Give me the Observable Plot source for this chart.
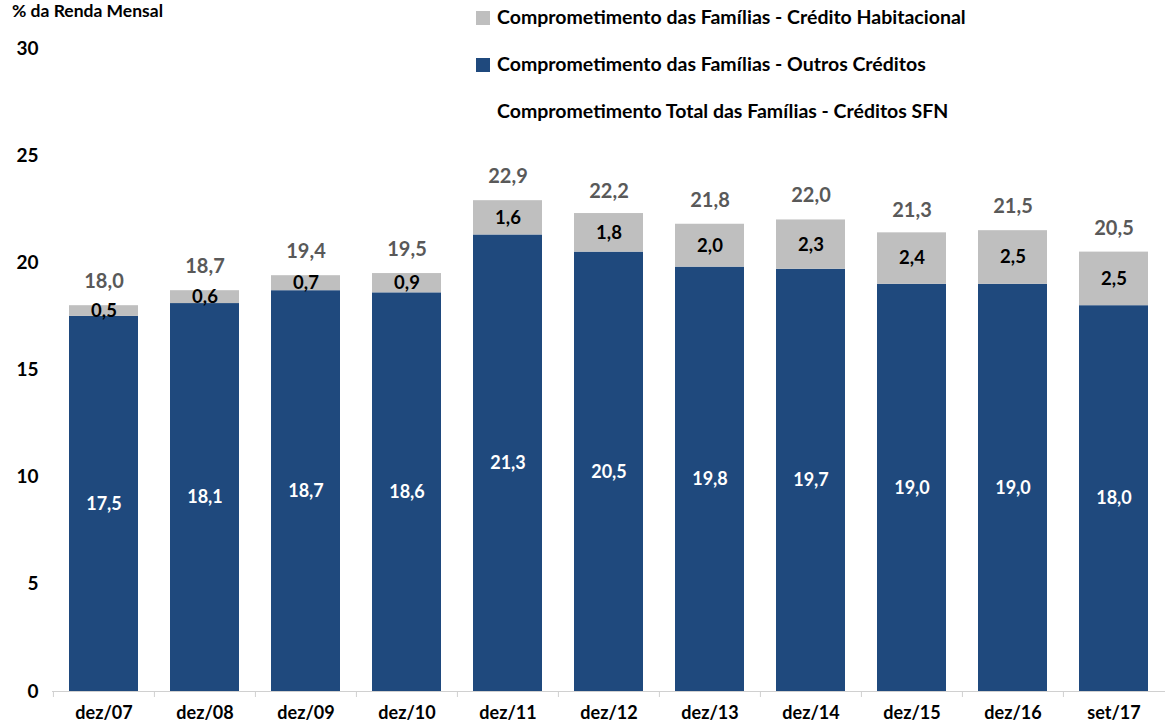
<!DOCTYPE html>
<html>
<head>
<meta charset="utf-8">
<script src="https://cdn.jsdelivr.net/npm/d3@7"></script>
<script src="https://cdn.jsdelivr.net/npm/@observablehq/plot@0.6"></script>
<style>
  body { margin: 0; background: #fff; font-family: Lato, "Open Sans", sans-serif; }
  #wrap { position: relative; width: 1168px; height: 725px; }
  .ylab { position: absolute; left: 12px; top: 0px; font-size: 17.5px; font-weight: bold; color: #000; }
  .leg { position: absolute; left: 476px; font-size: 19.5px; font-weight: bold; color: #000; white-space: nowrap; }
  .leg .sw { display: inline-block; width: 14px; height: 14px; margin-right: 7px; vertical-align: -1px; }
  .leg .nosw { display: inline-block; width: 14px; margin-right: 7px; }
</style>
</head>
<body>
<div id="wrap">
  <div id="chart"></div>
  <div class="ylab">% da Renda Mensal</div>
  <div class="leg" style="top:5px"><span class="sw" style="background:#bfbfbf"></span>Comprometimento das Famílias - Crédito Habitacional</div>
  <div class="leg" style="top:52px"><span class="sw" style="background:#1f497d"></span>Comprometimento das Famílias - Outros Créditos</div>
  <div class="leg" style="top:99px"><span class="nosw"></span>Comprometimento Total das Famílias - Créditos SFN</div>
</div>
<script>
const categories = ["dez/07","dez/08","dez/09","dez/10","dez/11","dez/12","dez/13","dez/14","dez/15","dez/16","set/17"];
const outros = [17.5, 18.1, 18.7, 18.6, 21.3, 20.5, 19.8, 19.7, 19.0, 19.0, 18.0];
const habitacional = [0.5, 0.6, 0.7, 0.9, 1.6, 1.8, 2.0, 2.3, 2.4, 2.5, 2.5];
const total = [18.0, 18.7, 19.4, 19.5, 22.9, 22.2, 21.8, 22.0, 21.3, 21.5, 20.5];
const yTicks = [0, 5, 10, 15, 20, 25, 30];
const seriesNames = ["Outros Créditos", "Crédito Habitacional"];
const seriesColors = ["#1f497d", "#bfbfbf"];

const fmt = v => v.toFixed(1).replace(".", ",");

const rows = categories.flatMap((c, i) => [
  {cat: c, serie: seriesNames[0], v: outros[i]},
  {cat: c, serie: seriesNames[1], v: habitacional[i]}
]);
const totals = categories.map((c, i) => ({cat: c, v: total[i]}));

const W = 1168, H = 725, mL = 52, mR = 3;
const step = (W - mL - mR) / categories.length;

const chart = Plot.plot({
  width: W,
  height: H,
  marginLeft: mL,
  marginRight: mR,
  marginTop: 48,
  marginBottom: 34,
  style: {fontFamily: "Lato, 'Open Sans', sans-serif", fontWeight: "bold", color: "#000", background: "#fff"},
  x: {type: "band", domain: categories, paddingInner: 0.32, paddingOuter: 0.16, align: 0.5, label: null},
  y: {domain: [0, 30], label: null},
  color: {domain: seriesNames, range: seriesColors},
  marks: [
    Plot.barY(rows, {x: "cat", y: "v", fill: "serie"}),
    Plot.ruleY([0], {stroke: "#d0d0d0", strokeWidth: 1}),
    Plot.axisX({tickSize: 6, tickFormat: () => "", dx: -step / 2, stroke: "#d0d0d0", strokeWidth: 1, label: null}),
    Plot.axisX({tickSize: 0, tickPadding: 15, fontSize: 18, fill: "#000", label: null}),
    Plot.axisY({ticks: yTicks, tickSize: 0, tickPadding: 14, fontSize: 19, fill: "#000", label: null}),
    Plot.text(rows.filter(d => d.serie === seriesNames[0]), Plot.stackY({x: "cat", y: "v", text: d => fmt(d.v), fill: "#fff", fontSize: 18})),
    Plot.text(rows, Plot.stackY({x: "cat", y: "v", text: d => d.serie === seriesNames[1] ? fmt(d.v) : "", fill: "#000", fontSize: 18.5})),
    Plot.text(totals, {x: "cat", y: "v", text: d => fmt(d.v), dy: -24, fill: "#595959", fontSize: 20})
  ]
});
document.getElementById("chart").appendChild(chart);
</script>
</body>
</html>
